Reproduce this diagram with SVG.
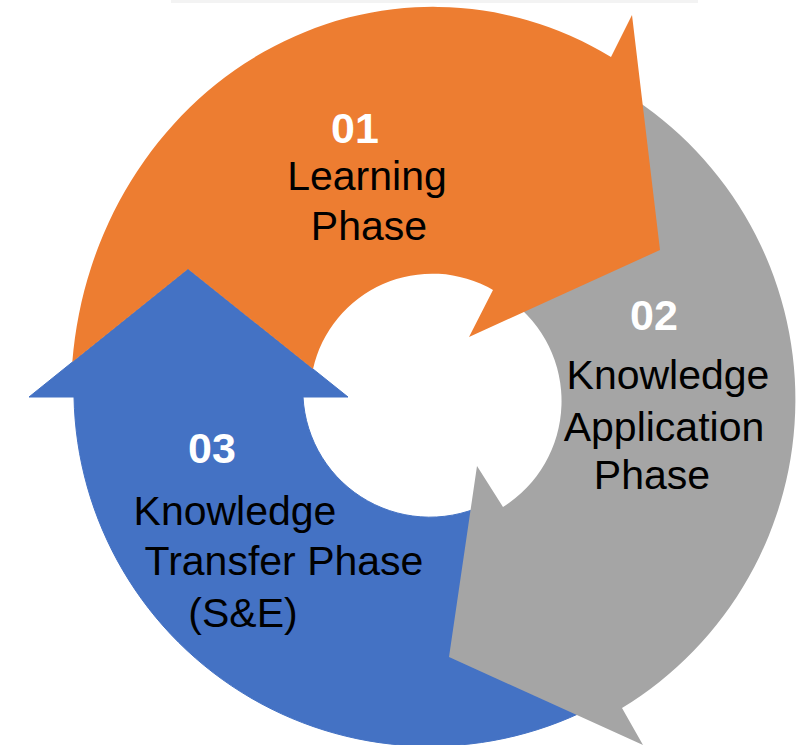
<svg xmlns="http://www.w3.org/2000/svg" width="803" height="745" viewBox="0 0 803 745">
  <style>
    .num { font-family: "Liberation Sans", Arial, sans-serif; font-weight: bold; font-size: 43px; fill: #FFFFFF; text-anchor: middle; }
    .lbl { font-family: "Liberation Sans", Arial, sans-serif; font-size: 41px; fill: #000000; text-anchor: middle; }
    .orange { fill: #ED7D31; }
    .gray { fill: #A5A5A5; }
    .blue { fill: #4472C4; stroke: #4472C4; stroke-width: 1; }
  </style>
  <rect x="0" y="0" width="803" height="745" fill="#FFFFFF"/>
  <rect x="171" y="0" width="527" height="3" fill="#F3F3F3"/>

  <g id="node-transfer">
    <path class="blue" d="M 490,502 A 127 127 0 0 1 303,397 L 348,397 L 188,269 L 29,397 L 74,397 A 356 356 0 0 0 600,703 Z"/>
  </g>

  <g id="node-application">
    <path class="gray" d="M 625,93 A 361 361 0 0 1 622,708 L 643,745 L 449,657 L 477,466 L 503,507 A 125 125 0 0 0 510,300 Z"/>
  </g>

  <g id="node-learning">
    <path class="orange" d="M 72.3,362.1 A 362 388 0 0 1 611,57 L 632,15 L 660,250 L 469,337 L 493,290 A 122 122 0 0 0 313,369 L 188,269 Z"/>
  </g>

  <g id="labels-learning">
    <text class="num" x="355" y="143">01</text>
    <text class="lbl" x="367" y="190">Learning</text>
    <text class="lbl" x="369" y="240">Phase</text>
  </g>
  <g id="labels-application">
    <text class="num" x="654" y="330">02</text>
    <text class="lbl" x="668" y="389">Knowledge</text>
    <text class="lbl" x="664" y="441">Application</text>
    <text class="lbl" x="652" y="489">Phase</text>
  </g>
  <g id="labels-transfer">
    <text class="num" x="212" y="463">03</text>
    <text class="lbl" x="235" y="525">Knowledge</text>
    <text class="lbl" x="284" y="575">Transfer Phase</text>
    <text class="lbl" x="243" y="627">(S&amp;E)</text>
  </g>
</svg>
